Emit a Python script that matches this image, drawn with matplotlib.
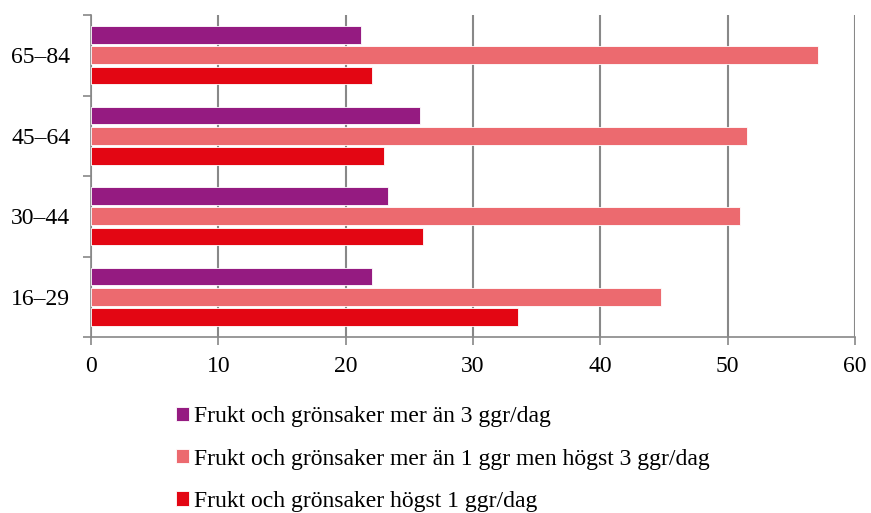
import numpy as np
import matplotlib.pyplot as plt

# Data (percent)
groups = ['16–29', '30–44', '45–64', '65–84']
mer_an_3 = [22.1, 23.3, 25.8, 21.2]
mellan_1_och_3 = [44.8, 51.0, 51.5, 57.1]
hogst_1 = [33.5, 26.1, 23.0, 22.1]

labels = ['Frukt och grönsaker mer än 3 ggr/dag',
          'Frukt och grönsaker mer än 1 ggr men högst 3 ggr/dag',
          'Frukt och grönsaker högst 1 ggr/dag']
colors = ['#951B81', '#EC6A6F', '#E30613']

plt.rcParams['font.family'] = ['Liberation Serif', 'DejaVu Serif']

fig = plt.figure(figsize=(8.71, 5.13), dpi=100)
ax = fig.add_axes([91 / 871, 1 - 337 / 513, 764 / 871, 322 / 513])

y = np.arange(len(groups))
h = 0.22
series = [mer_an_3, mellan_1_och_3, hogst_1]
offsets = [0.25, 0.0, -0.25]
for vals, off, col, lab in zip(series, offsets, colors, labels):
    ax.barh(y + off, vals, height=h, color=col, edgecolor='white',
            linewidth=0.6, label=lab, zorder=3)

ax.set_xlim(0, 60)
ax.set_ylim(-0.5, 3.5)
ax.set_xticks(np.arange(0, 61, 10))
ax.tick_params(axis='x', labelsize=17, length=6, color='#888888', width=1.2, pad=8)

# category boundaries as ticks, labels in the middle
ax.set_yticks(np.arange(-0.5, 3.6, 1.0))
ax.set_yticklabels([])
ax.set_yticks(y, minor=True)
ax.set_yticklabels(groups, minor=True)
ax.tick_params(axis='y', which='major', length=6, color='#888888', width=1.2)
ax.tick_params(axis='y', which='minor', length=0, labelsize=17, pad=15)

ax.grid(axis='x', color='#888888', linewidth=1.5, zorder=0)
for s in ['top', 'right']:
    ax.spines[s].set_visible(False)
for s in ['left', 'bottom']:
    ax.spines[s].set_color('#888888')
    ax.spines[s].set_linewidth(1.2)

fig.legend(loc='upper left', bbox_to_anchor=(167 / 871, 1 - 397 / 513),
           frameon=False, fontsize=17, handlelength=0.55, handleheight=0.55,
           handletextpad=0.2, labelspacing=0.9, borderaxespad=0)

fig.savefig('out.png', dpi=100)
